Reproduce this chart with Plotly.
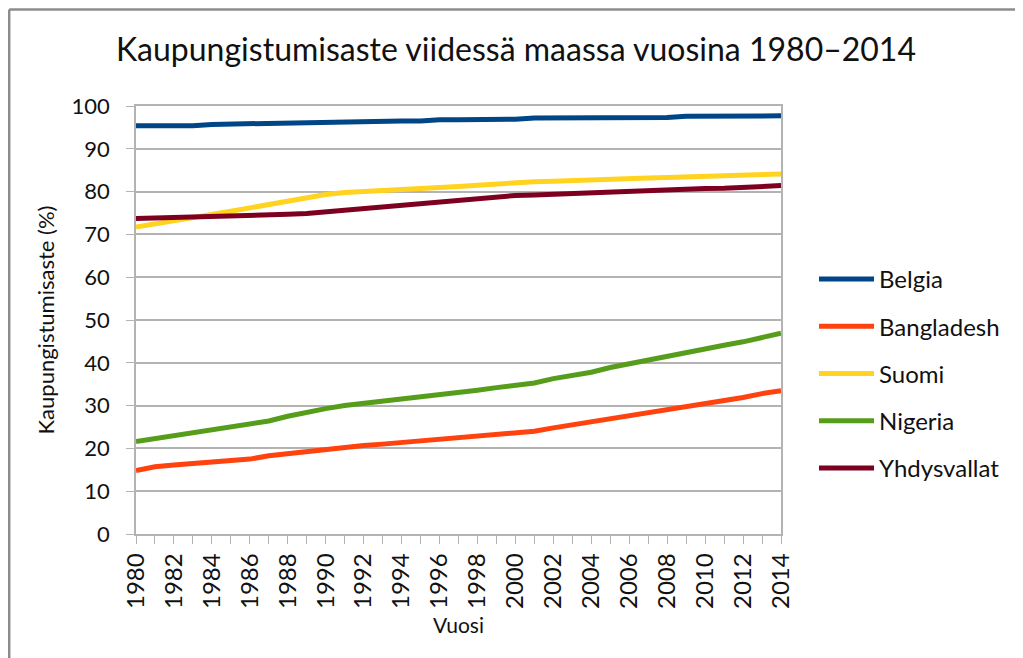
import plotly.graph_objects as go

years = list(range(1980, 2015))

belgia = [95.4, 95.4, 95.4, 95.4, 95.7, 95.8, 95.9, 96.1, 96.1, 96.1,
          96.2, 96.4, 96.4, 96.4, 96.5, 96.5, 96.8, 96.8, 96.8, 96.8,
          96.9, 97.2, 97.2, 97.2, 97.2, 97.2, 97.2, 97.3, 97.3, 97.6,
          97.6, 97.6, 97.6, 97.6, 97.7]
bangladesh = [14.8, 15.7, 16.1, 16.4, 16.7, 17.1, 17.5, 18.3, 18.8, 19.3,
              19.9, 20.3, 20.7, 21.0, 21.4, 21.7, 22.0, 22.4, 22.8, 23.2,
              23.6, 24.0, 24.8, 25.5, 26.3, 26.8, 27.5, 28.3, 29.0, 29.8,
              30.5, 31.2, 31.9, 32.8, 33.5]
suomi = [71.7, 72.4, 73.1, 73.8, 74.6, 75.4, 76.2, 77.0, 77.8, 78.6,
         79.3, 79.8, 80.0, 80.3, 80.6, 80.8, 81.0, 81.2, 81.5, 81.8,
         82.1, 82.3, 82.4, 82.6, 82.8, 82.9, 83.0, 83.2, 83.3, 83.4,
         83.6, 83.7, 83.8, 84.0, 84.1]
nigeria = [21.6, 22.3, 23.0, 23.6, 24.3, 25.0, 25.7, 26.4, 27.5, 28.5,
           29.3, 30.0, 30.5, 30.9, 31.6, 32.0, 32.5, 33.1, 33.6, 34.2,
           34.7, 35.3, 36.3, 37.1, 37.8, 38.9, 39.8, 40.6, 41.6, 42.5,
           43.4, 44.1, 44.9, 45.9, 46.9]
yhdysvallat = [73.7, 73.8, 73.9, 74.0, 74.1, 74.2, 74.3, 74.5, 74.7, 74.9,
               75.3, 75.7, 76.1, 76.5, 76.9, 77.3, 77.7, 78.1, 78.5, 78.8,
               79.1, 79.2, 79.4, 79.6, 79.8, 80.0, 80.1, 80.3, 80.4, 80.6,
               80.7, 80.8, 81.0, 81.2, 81.4]

series_names = ["Belgia", "Bangladesh", "Suomi", "Nigeria", "Yhdysvallat"]
series_values = [belgia, bangladesh, suomi, nigeria, yhdysvallat]
colors = ["#004586", "#ff420e", "#ffd320", "#579d1c", "#7e0021"]

tick_years = list(range(1980, 2015, 2))
tick_labels = [str(y) for y in tick_years]

FONT = "Lato"
TXT = "#111111"

fig = go.Figure()
for name, vals, col in zip(series_names, series_values, colors):
    fig.add_trace(go.Scatter(
        x=years, y=vals, name=name, mode="lines",
        line=dict(color=col, width=5),
        legendgroup=name,
    ))

# figure sits inside the page body with an 8px margin
W, H = 1015, 650
L, R, T, B = 128, 773, 98, 526
pw, ph = R - L, B - T

def px_x(p):
    return (p - L) / pw

def px_y(p):
    return (B - p) / ph

fig.update_layout(
    width=W, height=H,
    margin=dict(l=L, r=W - R, t=T, b=H - B, autoexpand=False),
    paper_bgcolor="white", plot_bgcolor="white",
    font=dict(family=FONT, color=TXT),
    title=dict(text="Kaupungistumisaste viidessä maassa vuosina 1980–2014",
               x=508 / W, xref="container", xanchor="center",
               y=1 - 42 / H, yref="container", yanchor="middle",
               font=dict(size=32, family=FONT, color=TXT)),
    showlegend=True,
    legend=dict(x=px_x(806), xanchor="left", y=px_y(249), yanchor="top",
                font=dict(size=24, family=FONT, color=TXT),
                itemwidth=55, tracegroupgap=13, traceorder="grouped",
                bgcolor="rgba(0,0,0,0)"),
    xaxis=dict(range=[1980, 2014], tickmode="array", tickvals=tick_years,
               ticktext=tick_labels, tickangle=-90,
               tickfont=dict(size=24, family=FONT, color=TXT),
               ticks="outside", ticklen=8, tickcolor="#b3b3b3",
               ticklabelstandoff=0,
               minor=dict(dtick=1, tick0=1980, ticks="outside", ticklen=8,
                          tickcolor="#b3b3b3", showgrid=False),
               showline=True, linecolor="#b3b3b3", linewidth=1.5, mirror=True,
               showgrid=False, zeroline=False,
               title=dict(text="Vuosi", font=dict(size=21, family=FONT, color=TXT),
                          standoff=10)),
    yaxis=dict(range=[0, 100], dtick=10, tick0=0,
               tickfont=dict(size=22, family=FONT, color=TXT),
               ticks="outside", ticklen=8, tickcolor="#b3b3b3",
               ticklabelstandoff=12,
               showline=True, linecolor="#b3b3b3", linewidth=1.5, mirror=True,
               showgrid=True, gridcolor="#b3b3b3", gridwidth=1.5,
               zeroline=False,
               title=dict(text="Kaupungistumisaste (%)",
                          font=dict(size=22, family=FONT, color=TXT),
                          standoff=11)),
)

# outer frame (left and top edges)
fig.add_shape(type="line", xref="paper", yref="paper",
              x0=px_x(1.2), x1=px_x(1.2), y0=px_y(1.5), y1=px_y(H + 5),
              line=dict(color="#8c8c8c", width=2.5))
fig.add_shape(type="line", xref="paper", yref="paper",
              x0=px_x(1.2), x1=px_x(W + 5), y0=px_y(1.5), y1=px_y(1.5),
              line=dict(color="#8c8c8c", width=2.5))

fig.write_html("out.html")
